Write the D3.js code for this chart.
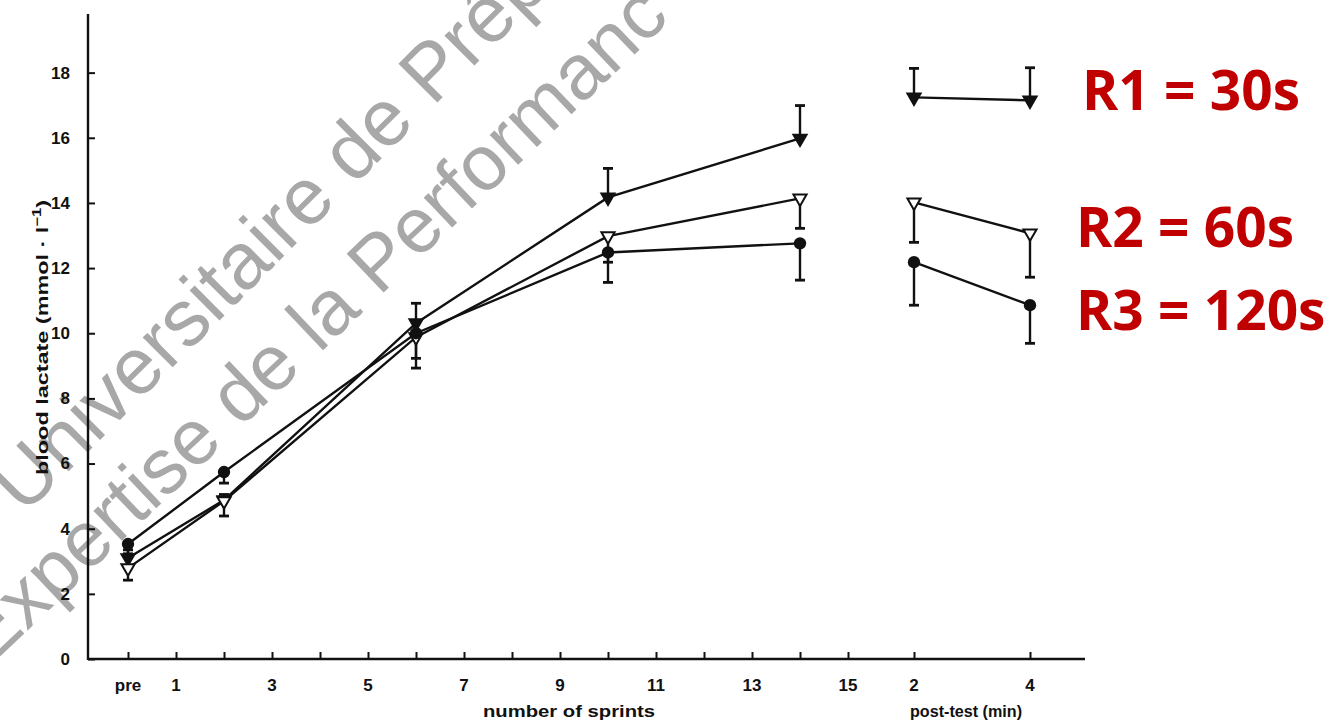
<!DOCTYPE html>
<html>
<head>
<meta charset="utf-8">
<script src="https://cdn.jsdelivr.net/npm/d3@7"></script>
<style>
  html, body { margin: 0; padding: 0; background: #fff; }
  svg { display: block; }
</style>
</head>
<body>
<svg id="chart" width="1343" height="725"></svg>
<script>
// ---------- data ----------
const sprintPoints = [0, 2, 6, 10, 14];          // 0 = "pre"
const postPoints = [2, 4];                        // minutes post-test
const sprintTicks = d3.range(0, 16);
const sprintTickLabels = ["pre", "1", "3", "5", "7", "9", "11", "13", "15"];
const sprintLabelValues = [0, 1, 3, 5, 7, 9, 11, 13, 15];
const postTicks = [2, 4];
const postTickLabels = ["2", "4"];
const yTicks = [0, 2, 4, 6, 8, 10, 12, 14, 16, 18];

const r1Sprint = [3.10, 4.88, 10.31, 14.17, 15.98];
const r1SprintErr = [0.25, 0.17, 0.61, 0.89, 1.01];
const r1Post = [17.24, 17.15];
const r1PostErr = [0.89, 1.00];

const r2Sprint = [2.79, 4.85, 9.88, 12.98, 14.14];
const r2SprintErr = [0.37, 0.46, 0.95, 0.80, 0.92];
const r2Post = [14.02, 13.07];
const r2PostErr = [1.23, 1.35];

const r3Sprint = [3.53, 5.74, 10.00, 12.48, 12.76];
const r3SprintErr = [0.30, 0.34, 0.77, 0.92, 1.13];
const r3Post = [12.18, 10.86];
const r3PostErr = [1.32, 1.17];

const seriesNames = ["R1", "R2", "R3"];
const legendLabels = ["R1 = 30s", "R2 = 60s", "R3 = 120s"];
const watermarkLines = ["Universitaire de Prép", "Expertise de la Performanc"];

// ---------- scales ----------
const svg = d3.select("#chart");
const y = d3.scaleLinear().domain([0, 19.8]).range([659, 14]);
const xS = d3.scaleLinear().domain([0, 15]).range([128, 848]);
const xP = d3.scaleLinear().domain([2, 4]).range([914, 1030]);
const axisLeftX = 88;
const axisRightX = 1085;

const ink = "#111";
const font = "'Liberation Sans', Arial, sans-serif";

// ---------- watermark (behind) ----------
const wmPos = [[24, 516, -45, 80], [-11, 667, -43.5, 78]];
svg.append("g").selectAll("text").data(watermarkLines).join("text")
  .attr("transform", (d, i) => `translate(${wmPos[i][0]},${wmPos[i][1]}) rotate(${wmPos[i][2]})`)
  .attr("font-family", "'Liberation Sans', Arial, sans-serif")
  .attr("font-size", (d, i) => wmPos[i][3])
  .attr("fill", "#999").attr("fill-opacity", 0.85)
  .text(d => d);

// ---------- axes ----------
const gY = svg.append("g").attr("transform", `translate(${axisLeftX},0)`)
  .call(d3.axisLeft(y).tickValues(yTicks).tickSize(-7).tickPadding(18).tickFormat(d3.format("d")));
gY.select(".domain").remove();
gY.append("line").attr("x1", 0).attr("x2", 0).attr("y1", y.range()[1]).attr("y2", y(0) + 1)
  .attr("stroke", ink).attr("stroke-width", 2.4);
gY.selectAll(".tick line").attr("stroke", ink).attr("stroke-width", 2);
gY.selectAll(".tick text").attr("font-family", font).attr("font-weight", "bold")
  .attr("font-size", 17).attr("fill", ink);

// x axis
const gX = svg.append("g").attr("transform", `translate(0,${y(0)})`);
gX.append("line").attr("x1", axisLeftX).attr("x2", axisRightX).attr("y1", 0).attr("y2", 0)
  .attr("stroke", ink).attr("stroke-width", 2.4);
const gXs = gX.append("g").call(d3.axisBottom(xS).tickValues(sprintTicks).tickSize(-7).tickFormat(() => ""));
gXs.select(".domain").remove();
const gXp = gX.append("g").call(d3.axisBottom(xP).tickValues(postTicks).tickSize(-7).tickFormat(() => ""));
gXp.select(".domain").remove();
gX.selectAll(".tick line").attr("stroke", ink).attr("stroke-width", 2);

// tick labels
const tickLabelY = y(0) + 32;
svg.append("g").selectAll("text").data(sprintLabelValues).join("text")
  .attr("x", d => xS(d)).attr("y", tickLabelY)
  .attr("text-anchor", "middle").attr("font-family", font).attr("font-weight", "bold")
  .attr("font-size", 17).attr("fill", ink)
  .text((d, i) => sprintTickLabels[i]);
svg.append("g").selectAll("text").data(postTicks).join("text")
  .attr("x", d => xP(d)).attr("y", tickLabelY)
  .attr("text-anchor", "middle").attr("font-family", font).attr("font-weight", "bold")
  .attr("font-size", 17).attr("fill", ink)
  .text((d, i) => postTickLabels[i]);

// axis titles
svg.append("text").attr("x", 483).attr("y", 717)
  .attr("textLength", 172).attr("lengthAdjust", "spacingAndGlyphs")
  .attr("font-family", font).attr("font-weight", "bold").attr("font-size", 17).attr("fill", ink)
  .text("number of sprints");
svg.append("text").attr("x", 910).attr("y", 717)
  .attr("textLength", 112).attr("lengthAdjust", "spacingAndGlyphs")
  .attr("font-family", font).attr("font-weight", "bold").attr("font-size", 17).attr("fill", ink)
  .text("post-test (min)");
const yt = svg.append("text").attr("transform", "translate(48,475) rotate(-90)")
  .attr("textLength", 275).attr("lengthAdjust", "spacingAndGlyphs")
  .attr("font-family", font).attr("font-weight", "bold")
  .attr("font-size", 17).attr("fill", ink);
yt.append("tspan").text("blood lactate (mmol · l");
yt.append("tspan").attr("dy", -7).attr("font-size", 12).text("−1");
yt.append("tspan").attr("dy", 7).text(")");

// ---------- series ----------
const series = [
  { name: seriesNames[0], sprint: r1Sprint, sErr: r1SprintErr, post: r1Post, pErr: r1PostErr, dir: -1, marker: "tri", fill: ink },
  { name: seriesNames[1], sprint: r2Sprint, sErr: r2SprintErr, post: r2Post, pErr: r2PostErr, dir: 1, marker: "tri", fill: "#fff" },
  { name: seriesNames[2], sprint: r3Sprint, sErr: r3SprintErr, post: r3Post, pErr: r3PostErr, dir: 1, marker: "circle", fill: ink }
];

const line = d3.line().x(d => d.x).y(d => d.y);
const gLines = svg.append("g");
const gErr = svg.append("g");
const gMarks = svg.append("g");

series.forEach(s => {
  const sp = sprintPoints.map((v, i) => ({ x: xS(v), y: y(s.sprint[i]), v: s.sprint[i], e: s.sErr[i] }));
  const pp = postPoints.map((v, i) => ({ x: xP(v), y: y(s.post[i]), v: s.post[i], e: s.pErr[i] }));
  [sp, pp].forEach(pts => {
    gLines.append("path").datum(pts).attr("d", line)
      .attr("fill", "none").attr("stroke", ink).attr("stroke-width", 2.4);
    pts.forEach(p => {
      const yEnd = y(p.v - s.dir * p.e);
      gErr.append("line").attr("x1", p.x).attr("x2", p.x).attr("y1", p.y).attr("y2", yEnd)
        .attr("stroke", ink).attr("stroke-width", 2.4);
      gErr.append("line").attr("x1", p.x - 5).attr("x2", p.x + 5).attr("y1", yEnd).attr("y2", yEnd)
        .attr("stroke", ink).attr("stroke-width", 2.8);
      if (s.marker === "circle") {
        gMarks.append("path").attr("d", d3.symbol(d3.symbolCircle, 120)())
          .attr("transform", `translate(${p.x},${p.y})`).attr("fill", ink);
      } else {
        gMarks.append("path").attr("d", d3.symbol(d3.symbolTriangle, 75)())
          .attr("transform", `translate(${p.x},${p.y}) rotate(180)`)
          .attr("fill", s.fill).attr("stroke", ink).attr("stroke-width", 2);
      }
    });
  });
});

// ---------- legend labels ----------
const legendY = [110, 247, 330];
svg.append("g").selectAll("text").data(legendLabels).join("text")
  .attr("x", (d, i) => i === 0 ? 1082 : 1076).attr("y", (d, i) => legendY[i])
  .attr("font-family", "'Open Sans', 'Noto Sans', sans-serif").attr("font-weight", "bold")
  .attr("font-size", 55).attr("fill", "#c00000")
  .text(d => d);
</script>
</body>
</html>
